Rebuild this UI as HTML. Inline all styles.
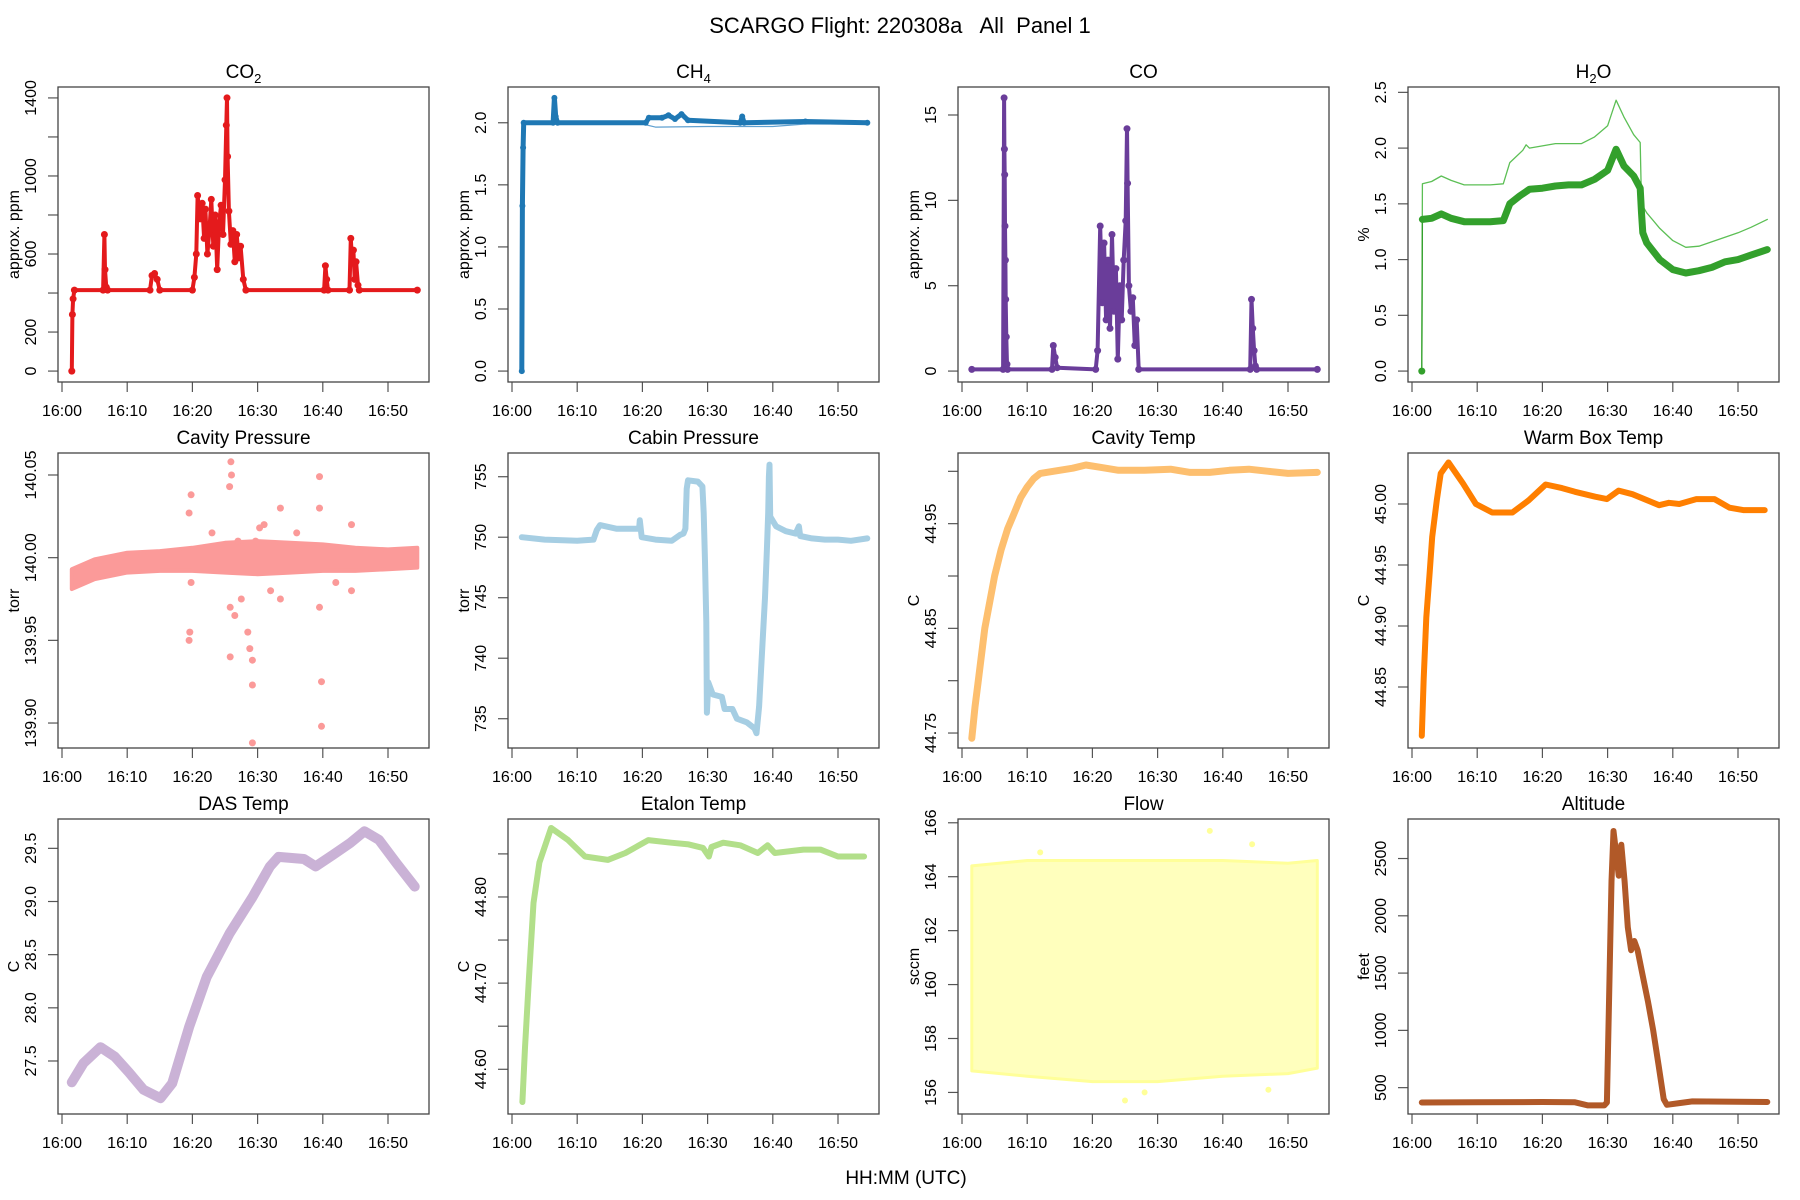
<!DOCTYPE html>
<html><head><meta charset="utf-8">
<style>
html,body{margin:0;padding:0;background:#fff;}
svg{display:block;font-family:"Liberation Sans",Arial,sans-serif;}
</style></head>
<body>
<svg id="fig" width="1800" height="1200" viewBox="0 0 1800 1200" xmlns="http://www.w3.org/2000/svg">
<rect x="0" y="0" width="1800" height="1200" fill="#fff"/>
<text x="900" y="33" font-size="22" text-anchor="middle" fill="#000" style="white-space:pre" xml:space="preserve">SCARGO Flight: 220308a   All  Panel 1</text>
<text x="906" y="1184" font-size="19" text-anchor="middle" fill="#000">HH:MM (UTC)</text>
</svg>
<script>
// ---- data (minutes after 16:00, values) ----
const xTickMinutes = [0,10,20,30,40,50];
const xTickLabels = ["16:00","16:10","16:20","16:30","16:40","16:50"];

const co2T = [1.5,1.6,1.7,1.9,6.3,6.5,6.6,6.8,7,13.5,13.8,14.2,14.6,15,20,20.3,20.6,20.8,21.2,21.5,21.8,22,22.3,22.6,22.9,23.2,23.5,23.8,24.1,24.4,24.7,25,25.2,25.3,25.4,25.6,25.9,26.2,26.5,26.8,27.1,27.4,27.8,28.2,40.2,40.4,40.6,40.8,44.1,44.3,44.5,44.7,44.9,45.1,45.4,45.6,54.5];
const co2V = [0,290,370,415,415,700,520,430,415,415,490,500,470,415,415,480,600,900,780,860,680,830,600,720,880,640,800,520,760,850,700,980,1260,1400,1100,820,650,720,560,700,580,640,470,415,415,540,470,415,415,680,560,620,470,560,440,415,415];

const ch4T = [1.5,1.6,1.7,1.8,6.3,6.5,6.7,7,20.5,21,23,24,25,26,27,35,35.3,35.6,45,54.5];
const ch4V = [0,1.33,1.8,2.0,2.0,2.2,2.05,2.0,2.0,2.04,2.04,2.06,2.03,2.07,2.02,2.0,2.05,2.0,2.01,2.0];
const ch4bT = [1.8,20,22,30,40,45,54.5];
const ch4bV = [2.0,1.99,1.965,1.97,1.97,1.99,1.99];

const coT = [1.5,6.3,6.45,6.5,6.55,6.6,6.65,6.7,6.8,6.9,7,13.8,14,14.3,14.6,20.5,20.8,21.2,21.5,21.8,22.1,22.4,22.7,23,23.3,23.6,23.9,24.2,24.5,24.8,25.1,25.3,25.4,25.6,25.9,26.2,26.5,26.8,27.1,44.2,44.4,44.6,44.8,45,45.2,54.5];
const coV = [0.1,0.1,16,13,11.5,8.5,6.5,4.2,2,0.4,0.1,0.1,1.5,0.8,0.2,0.1,1.2,8.5,4,7.5,3,6.5,2.5,8,3.5,6,0.7,5,3,6.5,8.8,14.2,11,5,3.5,4.3,1.5,3,0.1,0.1,4.2,2.5,1.2,0.3,0.1,0.1];

const h2oT = [1.5,1.6,3,4.5,6,8,10,12,14,15,16.5,18,20,22,24,26,28,30,31.3,32.5,34,35,35.2,35.4,36,38,40,42,44,46,48,50,52,54.5];
const h2oV = [0.0,1.36,1.37,1.41,1.37,1.34,1.34,1.34,1.35,1.5,1.57,1.63,1.64,1.66,1.67,1.67,1.72,1.8,1.99,1.84,1.75,1.64,1.42,1.24,1.15,1.0,0.91,0.88,0.9,0.93,0.98,1.0,1.04,1.09];
const h2obT = [1.5,1.6,3,4.5,6,8,10,12,14,15,17,17.5,18,22,26,28,30,31.3,32.5,34,35,35.2,36,38,40,42,44,46,48,50,52,54.5];
const h2obV = [0,1.68,1.7,1.75,1.71,1.67,1.67,1.67,1.68,1.87,1.98,2.03,2.0,2.04,2.04,2.1,2.2,2.43,2.28,2.12,2.05,1.5,1.42,1.28,1.17,1.11,1.12,1.16,1.2,1.24,1.29,1.36];

const cpT = [1.5,5,10,15,20,25,30,35,40,45,50,54.5];
const cpV = [139.987,139.993,139.997,139.998,139.999,140.0,140.0,140.0,140.0,139.999,139.999,140.0];
const cpHalf = [0.006,0.006,0.006,0.006,0.007,0.009,0.010,0.009,0.008,0.007,0.006,0.006];
const cpOutT = [19.5,19.5,19.6,19.8,25.9,26,25.7,25.8,25.8,26.5,28.5,28.8,29.2,29.2,29.2,29.7,33.5,33.5,39.5,39.5,39.5,39.8,39.8,44.4,44.4,27,31,27.5,30.3,23,32,36,42,19.8];
const cpOutV = [140.027,139.95,139.955,140.038,140.058,140.05,140.043,139.94,139.97,139.965,139.955,139.945,139.923,139.888,139.938,140.01,140.03,139.975,140.049,140.03,139.97,139.925,139.898,140.02,139.98,140.01,140.02,139.975,140.018,140.015,139.98,140.015,139.985,139.985];

const cabT = [1.5,5,10,12.5,13,13.5,16,19.5,19.6,19.9,22,24.5,25.8,26.3,26.6,26.8,27,28.5,29.2,29.4,29.6,29.8,29.9,30.1,30.8,32.2,32.6,33.8,34.5,36,37.2,37.5,37.9,38.3,38.8,39.1,39.3,39.4,39.5,39.6,40.5,42,43.5,44,44.2,46,48,50,52,54.5];
const cabV = [750,749.8,749.7,749.8,750.6,751,750.7,750.7,751.4,750,749.8,749.7,750.2,750.3,750.7,754,754.7,754.6,754.2,752,748,743,735.5,738,737,736.8,735.8,735.8,735,734.7,734.2,733.8,736,740,745,749,752,755,756,751.7,750.9,750.5,750.3,750.9,750.1,749.9,749.8,749.8,749.7,749.9];

const ctT = [1.5,2,2.5,3.5,5,6,7,8,9,10,11,12,14,17,19,21,24,28,32,35,38,41,44,47,50,54.5];
const ctV = [44.745,44.775,44.80,44.85,44.90,44.925,44.945,44.96,44.975,44.985,44.993,44.998,45.0,45.003,45.006,45.004,45.001,45.001,45.002,44.999,44.999,45.001,45.002,45.0,44.998,44.999];

const wbT = [1.5,1.8,2.2,2.7,3.1,3.8,4.4,5.6,7.8,9.8,12.3,15.4,17.9,20.5,23,25,28.1,29.9,31.7,33.8,37.9,39.4,41,43.6,46.4,48.7,50.8,54.1];
const wbV = [44.81,44.857,44.907,44.943,44.973,45.003,45.025,45.034,45.017,45.0,44.993,44.993,45.003,45.016,45.013,45.01,45.006,45.004,45.011,45.008,44.999,45.001,45.0,45.004,45.004,44.997,44.995,44.995];

const dasT = [1.5,3.3,5.9,8.1,10.3,12.5,15.1,16.9,19.5,22.2,25.7,29.2,31.9,33.2,37.1,38.9,41.6,44.2,46.4,48.6,51.3,54.1];
const dasV = [27.30,27.48,27.63,27.54,27.39,27.23,27.15,27.29,27.82,28.29,28.70,29.04,29.33,29.42,29.40,29.33,29.44,29.55,29.66,29.58,29.36,29.14];

const etT = [1.6,2.0,2.6,3.3,4.2,6.0,8.6,11.2,14.7,17.4,20.9,24.4,27.1,29.3,30.2,30.6,32.4,35,37.7,39.2,40.3,44.7,47.3,50,54];
const etV = [44.562,44.625,44.707,44.793,44.84,44.88,44.866,44.847,44.843,44.851,44.866,44.863,44.861,44.857,44.847,44.858,44.863,44.86,44.851,44.86,44.851,44.855,44.855,44.847,44.847];

const flT = [1.5,10,20,30,40,50,54.5];
const flHi = [164.4,164.6,164.6,164.6,164.6,164.5,164.6];
const flLo = [156.8,156.6,156.4,156.4,156.6,156.7,156.9];
const flOutT = [38,44.5,25,28,12,47];
const flOutV = [165.7,165.2,155.7,156.0,164.9,156.1];

const altT = [1.5,10,20,25,27,29.5,29.9,30.2,30.6,30.9,31.3,31.7,32.1,32.6,33.1,33.6,34.1,34.6,35.3,36.2,37,37.8,38.6,39.1,41,43,54.5];
const altV = [370,372,375,372,345,345,370,1200,2300,2740,2550,2350,2620,2300,1900,1700,1780,1700,1500,1250,1000,700,400,350,365,380,375];

// ---- rendering ----
const NS = "http://www.w3.org/2000/svg";
const svg = document.getElementById('fig');
const colW = 450, rowTops = [87,453,819], boxH = 295, boxL = 58, boxR = 429;
const x0 = 62, pxPerMin = 6.52;

function el(tag, attrs, parent){
  const e = document.createElementNS(NS, tag);
  for (const k in attrs) e.setAttribute(k, attrs[k]);
  (parent||svg).appendChild(e);
  return e;
}

const panels = [
 {key:"co2",c:0,r:0,title:["CO","2",""],ylab:"approx. ppm",lo:-56,hi:1456,ticks:[0,200,400,600,800,1000,1200,1400],tl:["0","200","","600","","1000","","1400"],color:"#E41A1C"},
 {key:"ch4",c:1,r:0,title:["CH","4",""],ylab:"approx. ppm",lo:-0.088,hi:2.288,ticks:[0,0.5,1,1.5,2],tl:["0.0","0.5","1.0","1.5","2.0"],color:"#1F78B4"},
 {key:"co",c:2,r:0,title:["CO","",""],ylab:"approx. ppm",lo:-0.64,hi:16.64,ticks:[0,5,10,15],tl:["0","5","10","15"],color:"#6A3D9A"},
 {key:"h2o",c:3,r:0,title:["H","2","O"],ylab:"%",lo:-0.098,hi:2.548,ticks:[0,0.5,1,1.5,2,2.5],tl:["0.0","0.5","1.0","1.5","2.0","2.5"],color:"#33A02C"},
 {key:"cavp",c:0,r:1,title:["Cavity Pressure","",""],ylab:"torr",lo:139.8849,hi:140.0633,ticks:[139.9,139.95,140,140.05],tl:["139.90","139.95","140.00","140.05"],color:"#FB9A99"},
 {key:"cabp",c:1,r:1,title:["Cabin Pressure","",""],ylab:"torr",lo:732.58,hi:756.96,ticks:[735,740,745,750,755],tl:["735","740","745","750","755"],color:"#A6CEE3"},
 {key:"cavt",c:2,r:1,title:["Cavity Temp","",""],ylab:"C",lo:44.7357,hi:45.0175,ticks:[44.75,44.8,44.85,44.9,44.95,45.0],tl:["44.75","","44.85","","44.95",""],color:"#FDBF6F"},
 {key:"wbt",c:3,r:1,title:["Warm Box Temp","",""],ylab:"C",lo:44.80,hi:45.0418,ticks:[44.85,44.9,44.95,45.0],tl:["44.85","44.90","44.95","45.00"],color:"#FF7F00"},
 {key:"das",c:0,r:2,title:["DAS Temp","",""],ylab:"C",lo:27.0014,hi:29.776,ticks:[27.5,28,28.5,29,29.5],tl:["27.5","28.0","28.5","29.0","29.5"],color:"#CAB2D6"},
 {key:"etl",c:1,r:2,title:["Etalon Temp","",""],ylab:"C",lo:44.5481,hi:44.8905,ticks:[44.6,44.65,44.7,44.75,44.8,44.85],tl:["44.60","","44.70","","44.80",""],color:"#B2DF8A"},
 {key:"flow",c:2,r:2,title:["Flow","",""],ylab:"sccm",lo:155.2,hi:166.14,ticks:[156,158,160,162,164,166],tl:["156","158","160","162","164","166"],color:"#FFFF99"},
 {key:"alt",c:3,r:2,title:["Altitude","",""],ylab:"feet",lo:270,hi:2845,ticks:[500,1000,1500,2000,2500],tl:["500","1000","1500","2000","2500"],color:"#B15928"}
];

function series(g, xs, ys, T, V, color, w, r){
  let d = "";
  T.forEach((t,i)=>{ d += (i?"L":"M") + xs(t).toFixed(1) + " " + ys(V[i]).toFixed(1); });
  const p = el("path",{d:d,fill:"none",stroke:color,"stroke-width":w,"stroke-linejoin":"round","stroke-linecap":"round"},g);
  
  
  if (r>0) T.forEach((t,i)=>{
    const c = el("circle",{cx:xs(t).toFixed(1),cy:ys(V[i]).toFixed(1),r:r,fill:color},g);
    
    
  });
}

function band(g, xs, ys, T, lo, hi, color, op, sw){
  let d = "";
  T.forEach((t,i)=>{ d += (i?"L":"M") + xs(t).toFixed(1) + " " + ys(hi[i]).toFixed(1); });
  for (let i=T.length-1;i>=0;i--) d += "L" + xs(T[i]).toFixed(1) + " " + ys(lo[i]).toFixed(1);
  d += "Z";
  const p = el("path",{d:d,fill:color,"fill-opacity":op,stroke:color,"stroke-width":sw,"stroke-linejoin":"round"},g);
  
  
}

function points(g, xs, ys, T, V, color, r){
  T.forEach((t,i)=>{
    const c = el("circle",{cx:xs(t).toFixed(1),cy:ys(V[i]).toFixed(1),r:r,fill:color},g);
    
    
  });
}

panels.forEach(P=>{
  const ox = P.c*colW, top = rowTops[P.r], bot = top+boxH;
  const g = el("g",{});
  
  
  const xs = t => ox + x0 + t*pxPerMin;
  const ys = v => bot - (v-P.lo)/(P.hi-P.lo)*boxH;

  const tt = el("text",{x:ox+(boxL+boxR)/2,y:top-9,"font-size":19,"text-anchor":"middle",fill:"#000"},g);
  
  
  tt.appendChild(document.createTextNode(P.title[0]));
  if (P.title[1]) { const s = el("tspan",{"font-size":13,dy:5},tt); s.textContent = P.title[1]; }
  if (P.title[2]) { const s = el("tspan",{dy:-5},tt); s.textContent = P.title[2]; }

  const yl = el("text",{x:0,y:0,"font-size":16,"text-anchor":"middle",fill:"#000",transform:`translate(${ox+19},${(top+bot)/2}) rotate(-90)`},g);
  
  
  yl.textContent = P.ylab;

  P.ticks.forEach((v,i)=>{
    const y = ys(v);
    const tk = el("line",{x1:ox+boxL-10,x2:ox+boxL,y1:y,y2:y,stroke:"#555","stroke-width":1.2},g);
    
    
    if (P.tl[i]) {
      const lb = el("text",{x:0,y:0,"font-size":16,"text-anchor":"middle",fill:"#000",transform:`translate(${ox+36},${y}) rotate(-90)`},g);
      
      
      lb.textContent = P.tl[i];
    }
  });
  xTickMinutes.forEach((m,i)=>{
    const x = xs(m);
    const tk = el("line",{x1:x,x2:x,y1:bot,y2:bot+10,stroke:"#555","stroke-width":1.2},g);
    
    
    const lb = el("text",{x:x,y:bot+34,"font-size":16,"text-anchor":"middle",fill:"#000"},g);
    
    
    lb.textContent = xTickLabels[i];
  });

  const dg = el("g",{},g);
  
  
  const c = P.color;
  if (P.key==="co2") series(dg,xs,ys,co2T,co2V,c,4,3.5);
  if (P.key==="ch4") { series(dg,xs,ys,ch4bT,ch4bV,"#5fa0d0",1.2,0); series(dg,xs,ys,ch4T,ch4V,c,5,3); }
  if (P.key==="co") series(dg,xs,ys,coT,coV,c,4,3.5);
  if (P.key==="h2o") { series(dg,xs,ys,h2obT,h2obV,"#5cbf55",1.3,0); series(dg,xs,ys,h2oT,h2oV,c,1.3,0); series(dg,xs,ys,h2oT.slice(1),h2oV.slice(1),c,7,0); points(dg,xs,ys,[h2oT[0]],[h2oV[0]],c,3.5); }
  if (P.key==="cavp") {
    const lo = cpV.map((v,i)=>v-cpHalf[i]), hi = cpV.map((v,i)=>v+cpHalf[i]);
    band(dg,xs,ys,cpT,lo,hi,c,1,4);
    points(dg,xs,ys,cpOutT,cpOutV,c,3.5);
  }
  if (P.key==="cabp") series(dg,xs,ys,cabT,cabV,c,6,0);
  if (P.key==="cavt") series(dg,xs,ys,ctT,ctV,c,7,0);
  if (P.key==="wbt") series(dg,xs,ys,wbT,wbV,c,6,0);
  if (P.key==="das") series(dg,xs,ys,dasT,dasV,c,10,0);
  if (P.key==="etl") series(dg,xs,ys,etT,etV,c,6,0);
  if (P.key==="flow") { band(dg,xs,ys,flT,flLo,flHi,c,0.65,3); points(dg,xs,ys,flOutT,flOutV,c,3); }
  if (P.key==="alt") series(dg,xs,ys,altT,altV,c,6,0);

  const bx = el("rect",{x:ox+boxL,y:top,width:boxR-boxL,height:boxH,fill:"none",stroke:"#444","stroke-width":1.3},g);
  
  
});
</script>
</body></html>
